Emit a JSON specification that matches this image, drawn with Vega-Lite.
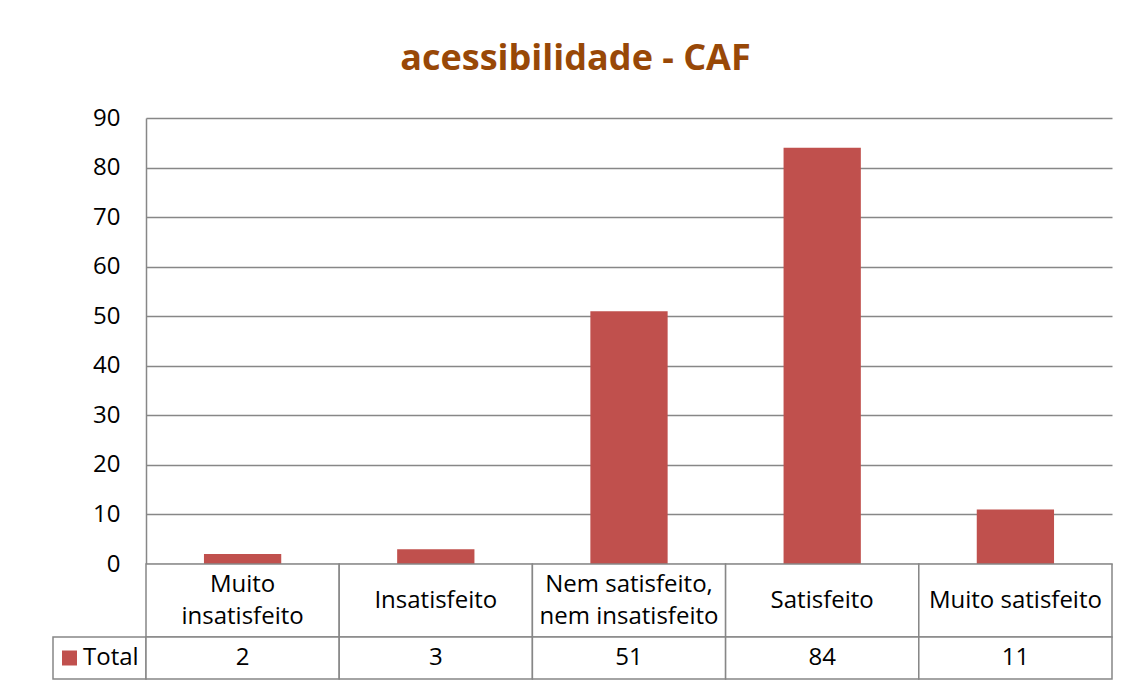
{
  "$schema": "https://vega.github.io/schema/vega-lite/v6.json",
  "background": "white",
  "padding": {"left": 52, "top": 41, "right": 10, "bottom": 0},
  "title": {"text": "acessibilidade - CAF", "font": "Open Sans", "fontSize": 36, "fontWeight": "bold", "color": "#984807", "anchor": "middle", "offset": 28, "dx": -7},
  "config": {"view": {"stroke": null}, "font": "Open Sans"},
  "datasets": {
    "bars": [
      {"category": "Muito insatisfeito", "header": "Muito\ninsatisfeito", "value": 2},
      {"category": "Insatisfeito", "header": "Insatisfeito", "value": 3},
      {"category": "Nem satisfeito, nem insatisfeito", "header": "Nem satisfeito,\nnem insatisfeito", "value": 51},
      {"category": "Satisfeito", "header": "Satisfeito", "value": 84},
      {"category": "Muito satisfeito", "header": "Muito satisfeito", "value": 11}
    ],
    "series": [{"series": "Total"}],
    "none": []
  },
  "columns": 2,
  "spacing": 0,
  "bounds": "flush",
  "concat": [
    {
      "width": 93, "height": 446,
      "data": {"name": "none"},
      "mark": {"type": "rule"},
      "encoding": {}
    },
    {
      "width": 966, "height": 446,
      "data": {"name": "bars"},
      "mark": {"type": "bar", "color": "#C0504D", "width": {"band": 0.4}},
      "encoding": {
        "x": {"field": "category", "type": "nominal", "sort": null, "axis": null, "scale": {"paddingInner": 0, "paddingOuter": 0}},
        "y": {"field": "value", "type": "quantitative", "scale": {"domain": [0, 90], "nice": false},
          "axis": {"values": [0, 10, 20, 30, 40, 50, 60, 70, 80, 90], "title": null, "grid": true, "gridColor": "#878787", "gridWidth": 1.5, "gridOpacity": 1,
            "domainColor": "#878787", "domainWidth": 1.5, "ticks": false, "labelPadding": 26, "labelFontSize": 24, "labelColor": "black", "labelFont": "Open Sans"}}
      }
    },
    {
      "width": 93, "height": 73,
      "data": {"name": "none"},
      "mark": {"type": "rule"},
      "encoding": {}
    },
    {
      "width": 966, "height": 73,
      "data": {"name": "bars"},
      "encoding": {
        "x": {"field": "category", "type": "nominal", "sort": null, "axis": null, "scale": {"paddingInner": 0, "paddingOuter": 0}}
      },
      "layer": [
        {"mark": {"type": "rect", "fill": "white", "stroke": "#878787", "strokeWidth": 1.5}},
        {"transform": [{"filter": "indexof(datum.header, '\\n') < 0"}],
         "mark": {"type": "text", "font": "Open Sans", "fontSize": 24, "color": "black", "baseline": "middle"},
         "encoding": {"text": {"field": "header", "type": "nominal"}}},
        {"transform": [{"filter": "indexof(datum.header, '\\n') >= 0"}],
         "mark": {"type": "text", "font": "Open Sans", "fontSize": 24, "color": "black", "lineBreak": "\n", "lineHeight": 32, "baseline": "middle", "dy": -16},
         "encoding": {"text": {"field": "header", "type": "nominal"}}}
      ]
    },
    {
      "width": 93, "height": 42,
      "data": {"name": "series"},
      "view": {"stroke": "#878787", "strokeWidth": 1.5},
      "layer": [
        {"mark": {"type": "point", "shape": "square", "filled": true, "size": 225, "color": "#C0504D", "opacity": 1},
         "encoding": {"x": {"value": 16.5}}},
        {"mark": {"type": "text", "font": "Open Sans", "fontSize": 24, "color": "black", "align": "left", "baseline": "middle"},
         "encoding": {"x": {"value": 30}, "text": {"field": "series", "type": "nominal"}}}
      ]
    },
    {
      "width": 966, "height": 42,
      "data": {"name": "bars"},
      "encoding": {
        "x": {"field": "category", "type": "nominal", "sort": null, "axis": null, "scale": {"paddingInner": 0, "paddingOuter": 0}}
      },
      "layer": [
        {"mark": {"type": "rect", "fill": "white", "stroke": "#878787", "strokeWidth": 1.5}},
        {"mark": {"type": "text", "font": "Open Sans", "fontSize": 24, "color": "black", "baseline": "middle"},
         "encoding": {"text": {"field": "value", "type": "quantitative"}}}
      ]
    }
  ]
}
